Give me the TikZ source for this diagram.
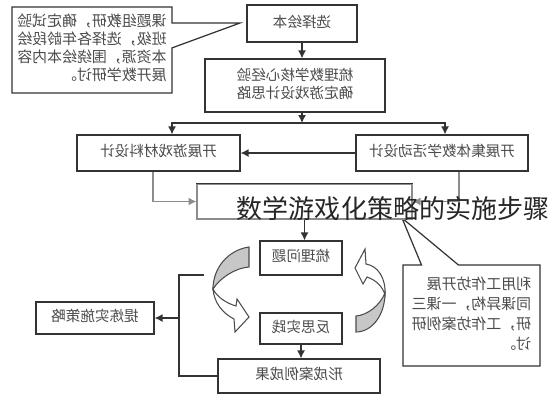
\documentclass[tikz,border=0pt]{standalone}
\usepackage{fontspec}
\setmainfont{Noto Sans CJK SC}
\newfontfamily\titlefont{Noto Sans CJK SC}
\usetikzlibrary{shapes.callouts,arrows.meta}
\newcommand\fliptext[2][c]{\reflectbox{\begin{tabular}{@{}#1@{}}#2\end{tabular}}}

\tikzset{
	box/.style={draw=black!80, line width=0.7pt, fill=white, inner sep=0pt, text=black!70, font=\fontsize{8.3}{10.2}\selectfont},
	note/.style={rectangle callout, draw=black!80, line width=0.7pt, fill=white, inner sep=0pt, text=black!70, font=\fontsize{8.5}{10.2}\selectfont},
	conn/.style={draw=black!80, line width=0.7pt, -{Latex[length=4.5pt,width=4.5pt]}},
	feed/.style={draw=black!45, line width=0.7pt, -{Latex[length=4.5pt,width=4.5pt]}},
	band/.style={draw=black!70, line width=0.6pt}
}

\begin{document}
\begin{tikzpicture}[x=0.02cm, y=-0.02cm]
		%%%%% START %%%%%
		\useasboundingbox (0,0) rectangle (550,400);
		
		% notes
		\coordinate (lptr) at (240,23);
		\coordinate (rptr) at (402,218);
		\node[note, callout absolute pointer=(lptr), callout pointer width=0.5cm, minimum width=3.2cm, minimum height=1.72cm] (noteL) at (92,50) {\fliptext[l]{课题组教研，确定试验\\班级，选择各年龄段绘\\本资源，围绕绘本内容\\展开数学研讨。}};
		\node[note, callout absolute pointer=(rptr), callout pointer width=0.74cm, minimum width=2.74cm, minimum height=2.02cm, font=\fontsize{8.5}{11.5}\selectfont] (noteR) at (471.5,315.5) {\fliptext[l]{利用工作坊开展\\同课异构，一课三\\研，工作坊案例研\\讨。}};
		
		% steps
		\node[box, minimum width=2.2cm, minimum height=0.74cm] (pick) at (302,23.5) {\fliptext{选择绘本}};
		\node[box, minimum width=3.6cm, minimum height=1.06cm] (sort) at (295,85.5) {\fliptext{梳理数学核心经验\\确定游戏设计思路}};
		\node[box, minimum width=3.26cm, minimum height=0.72cm] (game) at (158.5,153) {\fliptext{开展游戏材料设计}};
		\node[box, minimum width=3.44cm, minimum height=0.72cm] (act) at (442,153) {\fliptext{开展集体数学活动设计}};
		\node[box, draw=black!45, minimum width=4.3cm, minimum height=0.7cm] (mid) at (304.5,201.5) {};
		\draw[black!80, line width=0.7pt] (mid.north west) -- (mid.north east);
		\node[box, minimum width=1.64cm, minimum height=0.68cm] (problem) at (301,258) {\fliptext{梳理问题}};
		\node[box, minimum width=1.64cm, minimum height=0.62cm] (reflect) at (301,328.5) {\fliptext{反思实践}};
		\node[box, minimum width=3.24cm, minimum height=0.68cm] (result) at (299,376) {\fliptext{形成案例成果}};
		\node[box, minimum width=2.36cm, minimum height=0.64cm] (refine) at (95,318) {\fliptext{提炼实施策略}};
		
		% arrows
		\draw[conn] (pick.south) -- (pick.south |- sort.north);
		\coordinate (split) at (302,123);
		\draw[conn] (sort.south -| split) -- (split);
		\draw[conn] (split) -| ([xshift=0.27cm]game.north);
		\draw[conn] (split) -| ([xshift=0.06cm]act.north);
		\draw[conn] (act.west) -- (game.east);
		\draw[feed] ([xshift=-0.11cm]game.south) |- (mid.west);
		\draw[feed] ([xshift=0.34cm]act.south) |- (mid.east);
		\draw[conn] (mid.south) -- (mid.south |- problem.north);
		\draw[conn] (reflect.south) -- (reflect.south |- result.north);
		
		\coordinate (loopcorner) at (179,275);
		\coordinate (loopend) at (204,275);
		\draw[black!80, line width=0.7pt] (result.west) -| (loopcorner) -- (loopend);
		\draw[conn] (refine.east -| loopcorner) -- (refine.east);
		
		% curved arrows
		\draw[band, fill=black!22] (249,247) .. controls (228,250) and (213,268) .. (213,289) .. controls (220,278) and (235,268) .. (249,267) -- cycle;
		\draw[band, fill=white] (213,289) .. controls (214,302) and (222,313) .. (234,319) -- (235,332) -- (249,317) -- (237,299) -- (236,306) .. controls (226,303) and (217,297) .. (213,289) -- cycle;
		\draw[band, fill=black!22] (356,316) -- (356,332) .. controls (372,332) and (385,315) .. (385,293) .. controls (380,305) and (368,315) .. (356,316) -- cycle;
		\draw[band, fill=white] (385,295) .. controls (386,278) and (378,266) .. (366,264) -- (365,249) -- (355,268) -- (363,284) -- (367,277) .. controls (376,280) and (383,287) .. (385,295) -- cycle;
		
		\node[text=black!85, font=\titlefont\fontsize{14.8}{16}\selectfont] (title) at (393,209) {数学游戏化策略的实施步骤};
		
		%%%%% END %%%%%
	\end{tikzpicture}
\end{document}
